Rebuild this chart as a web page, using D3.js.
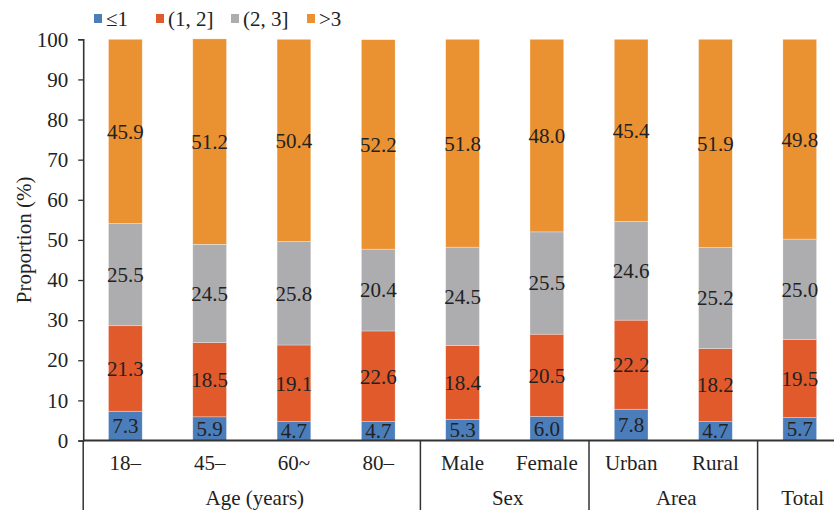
<!DOCTYPE html>
<html>
<head>
<meta charset="utf-8">
<script src="https://cdn.jsdelivr.net/npm/d3@7/dist/d3.min.js"></script>
<style>
  html, body { margin: 0; padding: 0; background: #fff; }
  svg { display: block; }
</style>
</head>
<body>
<svg id="chart" width="834" height="510"></svg>
<script>
// Categories, the label shown under each bar, and the groups they belong to
const categories = ["18–", "45–", "60~", "80–", "Male", "Female", "Urban", "Rural", "Total"];
const categoryLabels = ["18–", "45–", "60~", "80–", "Male", "Female", "Urban", "Rural", ""];
const groups = [
  { name: "Age (years)", members: ["18–", "45–", "60~", "80–"] },
  { name: "Sex", members: ["Male", "Female"] },
  { name: "Area", members: ["Urban", "Rural"] },
  { name: "Total", members: ["Total"] }
];

// Series (proportion, %)
const seriesNames = ["≤1", "(1, 2]", "(2, 3]", ">3"];
const le1   = [7.3, 5.9, 4.7, 4.7, 5.3, 6.0, 7.8, 4.7, 5.7];
const s1to2 = [21.3, 18.5, 19.1, 22.6, 18.4, 20.5, 22.2, 18.2, 19.5];
const s2to3 = [25.5, 24.5, 25.8, 20.4, 24.5, 25.5, 24.6, 25.2, 25.0];
const gt3   = [45.9, 51.2, 50.4, 52.2, 51.8, 48.0, 45.4, 51.9, 49.8];
const yTicks = [0, 10, 20, 30, 40, 50, 60, 70, 80, 90, 100];

const colors = ["#4b7dba", "#e05a2c", "#adadb0", "#ea9132"];
const FONT = "Liberation Serif";
const fontSize = 21;
const ink = "#222";

const table = categories.map((c, i) => ({
  cat: c,
  [seriesNames[0]]: le1[i],
  [seriesNames[1]]: s1to2[i],
  [seriesNames[2]]: s2to3[i],
  [seriesNames[3]]: gt3[i]
}));

const svg = d3.select("#chart");

const x = d3.scaleBand().domain(categories).range([83.2, 841.9]).paddingInner(0.6).paddingOuter(0.3);
const y = d3.scaleLinear().domain([0, 100]).range([440.5, 39.3]);
const step = x.step();
// left edge of a category slot
const slotLeft = c => x.range()[0] + categories.indexOf(c) * step;

const label = sel => sel.attr("font-family", FONT).attr("font-size", fontSize).attr("fill", ink);

const layers = d3.stack().keys(seriesNames)(table);

// Bars
layers.forEach((layer, si) => {
  svg.append("g").selectAll(null)
    .data(layer)
    .join("rect")
    .attr("x", d => x(d.data.cat))
    .attr("width", x.bandwidth())
    .attr("y", d => y(d[1]))
    .attr("height", d => y(d[0]) - y(d[1]))
    .attr("fill", colors[si])
    .attr("stroke", "#fff")
    .attr("stroke-opacity", 0.5)
    .attr("stroke-width", 0.6);
});

// Value labels centred in each segment
layers.forEach(layer => {
  svg.append("g").selectAll(null)
    .data(layer)
    .join("text")
    .attr("x", d => x(d.data.cat) + x.bandwidth() / 2)
    .attr("y", d => y((d[0] + d[1]) / 2))
    .attr("dy", "0.35em")
    .attr("text-anchor", "middle")
    .call(label)
    .text(d => (d[1] - d[0]).toFixed(1));
});

// Y axis
const yAxis = d3.axisLeft(y).tickValues(yTicks).tickSize(5).tickPadding(10).tickFormat(d3.format("d"));
const gy = svg.append("g").attr("transform", `translate(${x.range()[0]},0)`).call(yAxis);
gy.attr("font-family", FONT).attr("font-size", fontSize);
gy.select(".domain").attr("stroke", "#333").attr("stroke-width", 1.6);
gy.selectAll(".tick line").attr("stroke", "#333").attr("stroke-width", 1.3);
gy.selectAll(".tick text").call(label);

// Y axis title
svg.append("text")
  .attr("transform", `translate(24,${(y(0) + y(100)) / 2}) rotate(-90)`)
  .attr("text-anchor", "middle")
  .attr("dy", "0.35em")
  .call(label)
  .text("Proportion (%)");

// X axis baseline
svg.append("line")
  .attr("x1", x.range()[0]).attr("x2", 834)
  .attr("y1", y(0)).attr("y2", y(0))
  .attr("stroke", "#333").attr("stroke-width", 1.8);

// Category labels
svg.append("g").selectAll(null)
  .data(categories)
  .join("text")
  .attr("x", c => x(c) + x.bandwidth() / 2)
  .attr("y", 463)
  .attr("dy", "0.35em")
  .attr("text-anchor", "middle")
  .call(label)
  .text((c, i) => categoryLabels[i]);

// Group separators
groups.forEach(g => {
  const left = slotLeft(g.members[0]);
  svg.append("line")
    .attr("x1", left).attr("x2", left)
    .attr("y1", y(0)).attr("y2", 510)
    .attr("stroke", "#333").attr("stroke-width", 1.5);
});

// Group labels
svg.append("g").selectAll(null)
  .data(groups)
  .join("text")
  .attr("x", g => {
    const l = slotLeft(g.members[0]);
    const r = slotLeft(g.members[g.members.length - 1]) + step;
    return (l + r) / 2 + 3;
  })
  .attr("y", 498)
  .attr("dy", "0.35em")
  .attr("text-anchor", "middle")
  .call(label)
  .text(g => g.name);

// Legend
const legendX = [94, 156, 231, 307];
const legend = svg.append("g");
seriesNames.forEach((s, i) => {
  legend.append("rect")
    .attr("x", legendX[i]).attr("y", 14)
    .attr("width", 8).attr("height", 9)
    .attr("fill", colors[i]);
  legend.append("text")
    .attr("x", legendX[i] + 12).attr("y", 19)
    .attr("dy", "0.35em")
    .call(label)
    .text(s);
});
</script>
</body>
</html>
